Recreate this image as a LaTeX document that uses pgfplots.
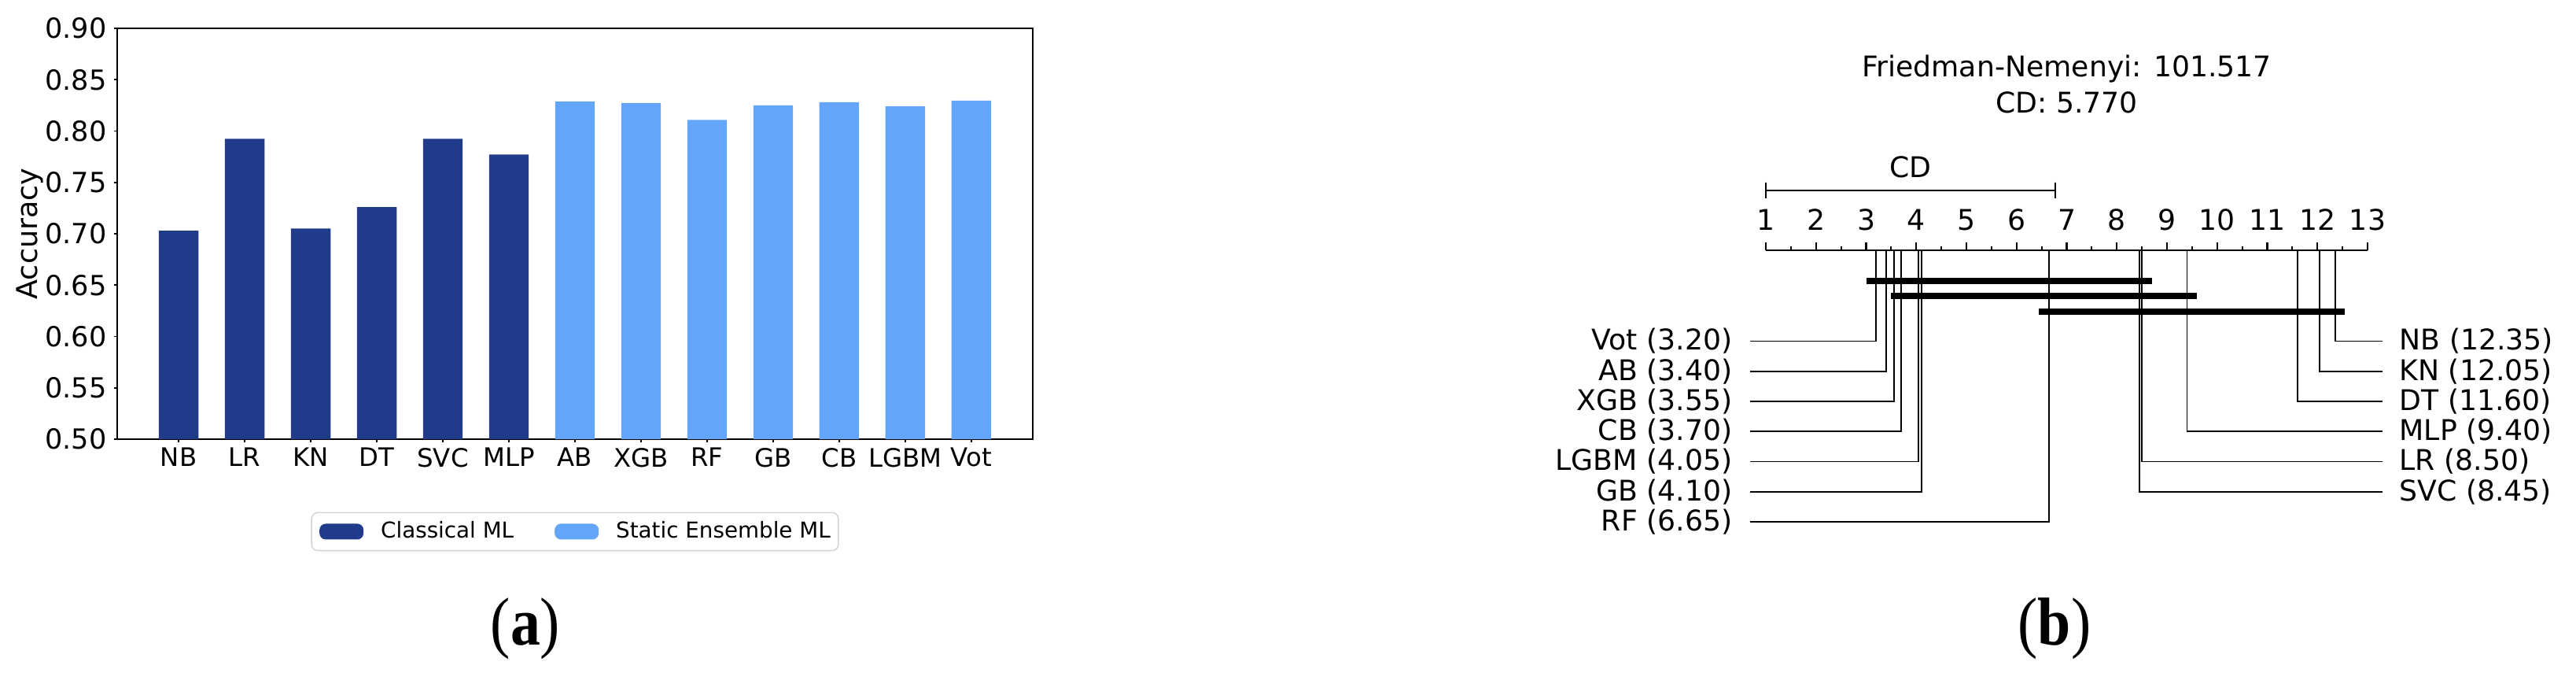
\documentclass[border=0pt]{standalone}
\usepackage{pgfplots}
\pgfplotsset{compat=1.18}
\usepackage{fontspec}
\setmainfont{DejaVu Sans}
\newfontfamily\capfont[FakeStretch=0.88]{Liberation Serif}
\definecolor{classic}{HTML}{1F3B89}
\definecolor{ensemble}{HTML}{62A5F9}

\pgfplotsset{
  patch legend/.style={legend image code/.code={\fill[##1,draw=none] (0mm,-1mm) rectangle (5.6mm,1mm);}},
  conn/.style={black, line width=0.55pt, no markers},
}

\begin{document}
\begin{tikzpicture}
\useasboundingbox (0,0) rectangle (32.75cm,8.64cm);

% ---------- (a) accuracy of each model
\begin{axis}[
    at={(1.49cm,3.06cm)}, anchor=south west,
    scale only axis, width=11.64cm, height=5.22cm,
    xmin=-0.93, xmax=12.93, ymin=0.5, ymax=0.9,
    ybar, bar width=0.6,
    xtick={0,...,12},
    xticklabels={NB,LR,KN,DT,SVC,MLP,AB,XGB,RF,GB,CB,LGBM,Vot},
    ytick={0.50,0.55,0.60,0.65,0.70,0.75,0.80,0.85,0.90},
    /pgf/number format/assume math mode=true,
    yticklabel style={/pgf/number format/fixed,/pgf/number format/fixed zerofill,/pgf/number format/precision=2,
        font=\fontsize{10pt}{12pt}\selectfont, inner sep=0pt, xshift=-0.9mm},
    xticklabel style={font=\fontsize{9.2pt}{11pt}\selectfont, inner sep=0pt, yshift=-0.7mm},
    xtick pos=left, ytick pos=left,
    tick align=outside, major tick length=0.37mm,
    tick style={black, line width=0.45pt},
    axis line style={line width=0.5pt},
    ylabel={Accuracy},
    ylabel style={at={(axis description cs:-0.095,0.5)}, anchor=center, font=\fontsize{10.4pt}{12pt}\selectfont},
    legend columns=2,
    legend style={at={(0.5,-0.225)}, anchor=center, draw=black!18, rounded corners=0.8mm,
        font=\fontsize{7.9pt}{9pt}\selectfont, inner xsep=1mm, inner ysep=1.1mm,
        nodes={inner sep=0pt, text depth=0.15em},
        /tikz/every odd column/.append style={column sep=2.2mm},
        /tikz/every even column/.append style={column sep=5.2mm}},
]
\addplot[fill=classic, draw=none, bar shift=0pt, patch legend] coordinates {
    (0,0.703) (1,0.7925) (2,0.705) (3,0.726) (4,0.7925) (5,0.777)};
\addlegendentry{Classical ML}
\addplot[fill=ensemble, draw=none, bar shift=0pt, patch legend] coordinates {
    (6,0.8288) (7,0.8272) (8,0.8109) (9,0.8249) (10,0.828) (11,0.8241) (12,0.8296)};
\addlegendentry{Static Ensemble ML}
\end{axis}

% ---------- (b) critical difference diagram (y = -pixels from top)
\begin{axis}[
    at={(22.45cm,0cm)}, anchor=south west,
    scale only axis, width=7.65cm, height=5.46cm,
    xmin=1, xmax=13, ymin=-864, ymax=-318,
    axis x line=top, axis y line=none,
    x axis line style={-},
    xtick={1,...,13}, xticklabels={},
    minor x tick num=1,
    tick align=outside,
    major tick length=1mm, minor tick length=0.5mm,
    tick style={black, line width=0.6pt},
    axis line style={line width=0.75pt},
    clip=false,
    font=\fontsize{10.3pt}{12pt}\selectfont,
]
% CD bar
\addplot[black, line width=0.75pt] coordinates {(1,-242) (6.77,-242)};
\addplot[black, line width=0.75pt] coordinates {(1,-232) (1,-252)};
\addplot[black, line width=0.75pt] coordinates {(6.77,-232) (6.77,-252)};
% cliques
\addplot[black, line width=2.1pt] coordinates {(3.00,-357) (8.70,-357)};
\addplot[black, line width=2.1pt] coordinates {(3.50,-376) (9.60,-376)};
\addplot[black, line width=2.1pt] coordinates {(6.45,-396) (12.55,-396)};
% left side
\addplot[conn] coordinates {(3.20,-318) (3.20,-433.5) (0.686,-433.5)};
\addplot[conn] coordinates {(3.40,-318) (3.40,-471.75) (0.686,-471.75)};
\addplot[conn] coordinates {(3.55,-318) (3.55,-510) (0.686,-510)};
\addplot[conn] coordinates {(3.70,-318) (3.70,-548.25) (0.686,-548.25)};
\addplot[conn] coordinates {(4.05,-318) (4.05,-586.5) (0.686,-586.5)};
\addplot[conn] coordinates {(4.10,-318) (4.10,-624.75) (0.686,-624.75)};
\addplot[conn] coordinates {(6.65,-318) (6.65,-663) (0.686,-663)};
% right side
\addplot[conn] coordinates {(12.35,-318) (12.35,-433.5) (13.30,-433.5)};
\addplot[conn] coordinates {(12.05,-318) (12.05,-471.75) (13.30,-471.75)};
\addplot[conn] coordinates {(11.60,-318) (11.60,-510) (13.30,-510)};
\addplot[conn] coordinates {(9.40,-318) (9.40,-548.25) (13.30,-548.25)};
\addplot[conn] coordinates {(8.50,-318) (8.50,-586.5) (13.30,-586.5)};
\addplot[conn] coordinates {(8.45,-318) (8.45,-624.75) (13.30,-624.75)};

\pgfplotsinvokeforeach{1,...,13}{\node[anchor=base, inner sep=0pt] at (axis cs:#1,-293) {#1};}
\node[anchor=base, inner sep=0pt] at (axis cs:7,-98) {Friedman-Nemenyi: 101.517};
\node[anchor=base, inner sep=0pt] at (axis cs:7,-144) {CD: 5.770};
\node[anchor=base, inner sep=0pt] at (axis cs:3.885,-226) {CD};

\node[anchor=east, inner sep=0pt] at (axis cs:0.341,-433.5) {Vot (3.20)};
\node[anchor=east, inner sep=0pt] at (axis cs:0.341,-471.75) {AB (3.40)};
\node[anchor=east, inner sep=0pt] at (axis cs:0.341,-510) {XGB (3.55)};
\node[anchor=east, inner sep=0pt] at (axis cs:0.341,-548.25) {CB (3.70)};
\node[anchor=east, inner sep=0pt] at (axis cs:0.341,-586.5) {LGBM (4.05)};
\node[anchor=east, inner sep=0pt] at (axis cs:0.341,-624.75) {GB (4.10)};
\node[anchor=east, inner sep=0pt] at (axis cs:0.341,-663) {RF (6.65)};

\node[anchor=west, inner sep=0pt] at (axis cs:13.627,-433.5) {NB (12.35)};
\node[anchor=west, inner sep=0pt] at (axis cs:13.627,-471.75) {KN (12.05)};
\node[anchor=west, inner sep=0pt] at (axis cs:13.627,-510) {DT (11.60)};
\node[anchor=west, inner sep=0pt] at (axis cs:13.627,-548.25) {MLP (9.40)};
\node[anchor=west, inner sep=0pt] at (axis cs:13.627,-586.5) {LR (8.50)};
\node[anchor=west, inner sep=0pt] at (axis cs:13.627,-624.75) {SVC (8.45)};
\end{axis}

\node[font=\capfont\fontsize{24.5pt}{28pt}\selectfont, inner sep=0pt] at (6.68cm,0.65cm) {(\textbf{a})};
\node[font=\capfont\fontsize{24.5pt}{28pt}\selectfont, inner sep=0pt] at (26.12cm,0.65cm) {(\textbf{b})};
\end{tikzpicture}
\end{document}
